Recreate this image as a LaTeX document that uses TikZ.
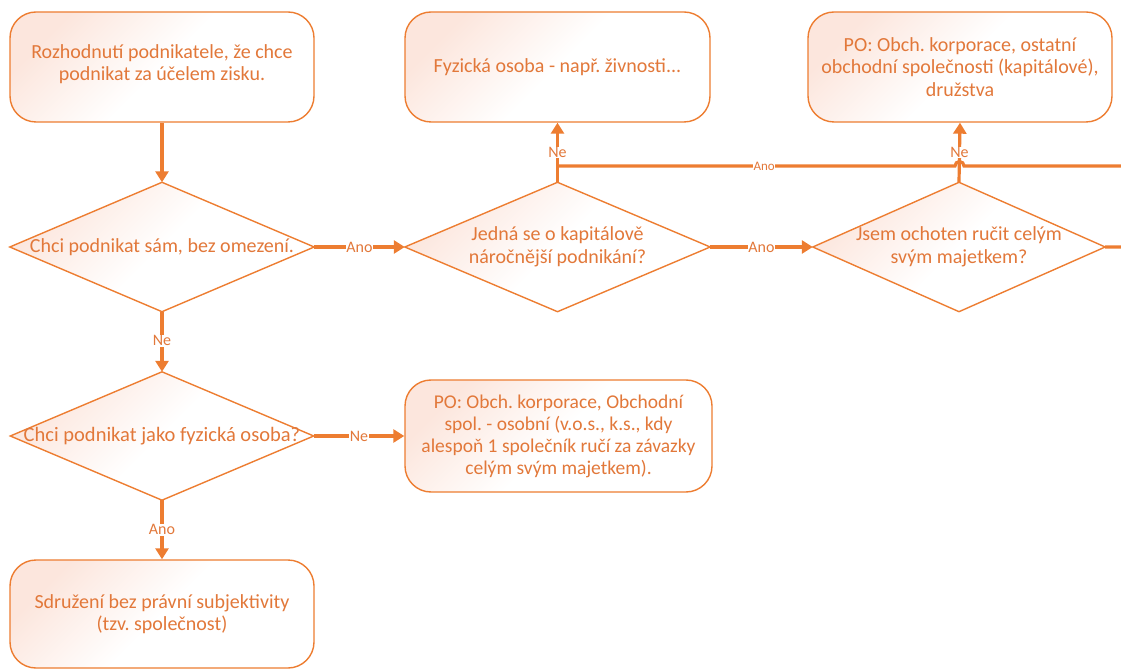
\documentclass[tikz,border=0pt]{standalone}
\usepackage{fontspec}
\setmainfont{Carlito}
\usetikzlibrary{arrows.meta}
\definecolor{ora}{HTML}{ED7D31}
\definecolor{oratext}{HTML}{E2783A}
\definecolor{pinkf}{HTML}{FCE6DD}
\frenchspacing
\begin{document}
\begin{tikzpicture}[x=1pt,y=1pt,
  box/.style={draw=ora, line width=1.4pt, rounded corners=26pt, top color=pinkf, bottom color=white, middle color=white, shading angle=45,
     minimum width=#1, minimum height=110pt, inner sep=0pt, align=center,
     text=oratext, font=\fontsize{20}{22.5}\selectfont},
  dbox/.style={draw=none, minimum width=#1, minimum height=129pt, inner sep=0pt},
  dshape/.style={draw=ora, line width=1.4pt, top color=pinkf, bottom color=white, middle color=white, shading angle=45},
  dtext/.style={text=oratext, font=\fontsize{20}{23}\selectfont, align=center, inner sep=0pt},
  conn/.style={draw=ora, line width=3.2pt, -{Triangle[width=13pt,length=11pt]}},
  plain/.style={draw=ora, line width=3.2pt},
  lab/.style={fill=white, inner sep=0.8pt, text=oratext, font=\fontsize{16}{17}\selectfont},
  slab/.style={fill=white, inner sep=0.5pt, text=oratext, font=\fontsize{13}{14}\selectfont}
]
\useasboundingbox (0,0) rectangle (1121,670);
% boxes
\node[box=304pt] (start) at (162,603) {Rozhodnutí podnikatele, že chce\\podnikat za účelem zisku.\rule[-9pt]{0pt}{0pt}};
\node[box=305pt] (fyz) at (557.5,603) {Fyzická osoba - např. živnosti...};
\node[box=304pt] (po1) at (960,603) {PO: Obch. korporace, ostatní\\obchodní společnosti (kapitálové),\\družstva};
\node[box=307pt, minimum height=112pt, font=\fontsize{19.5}{22}\selectfont] (po2) at (558.5,234) {PO: Obch. korporace, Obchodní\\spol. - osobní (v.o.s., k.s., kdy\\alespoň 1 společník ručí za závazky\\celým svým majetkem).};
\node[box=304pt, minimum height=108pt] (sdr) at (162,56) {\rule{0pt}{14pt}Sdružení bez právní subjektivity\\(tzv. společnost)};
% diamonds (placeholder nodes + drawn shapes)
\node[dbox=304pt] (d1) at (162,423) {};
\node[dbox=305pt] (d2) at (557.5,423) {};
\node[dbox=292pt] (d3) at (959,423) {};
\node[dbox=303pt, minimum height=128pt] (d4) at (162,234) {};
\foreach \d in {d1,d2,d3,d4}{
  \path[dshape] (\d.north) -- (\d.east) -- (\d.south) -- (\d.west) -- cycle;
}
\node[dtext] (t1) at (d1) {Chci podnikat sám, bez omezení.};
\node[dtext] (t2) at (d2) {Jedná se o kapitálově\\náročnější podnikání?};
\node[dtext] (t3) at (d3) {Jsem ochoten ručit celým\\svým majetkem?};
\node[dtext, font=\fontsize{20.5}{23}\selectfont] (t4) at (d4) {Chci podnikat jako fyzická osoba?};
% helper coordinates
\coordinate (r1) at (1140,423);
\coordinate (r2) at (1140,504);
\coordinate (hopR) at (964,504);
\coordinate (j) at (557.5,504);
% connectors
\draw[conn] (start.south) -- (d1.north);
\draw[plain] (d3.east) -- (r1) -- (r2) -- (hopR) arc (0:180:4.5) -- (j)
   node[pos=0.48, slab] (lano3) {Ano};
\draw[conn] (d2.north) -- node[pos=0.5, lab] (lne1) {Ne} (fyz.south);
\draw[conn] (d3.north) -- node[pos=0.5, lab] (lne2) {Ne} (po1.south);
\draw[conn] (d1.east) -- node[pos=0.5, lab] (lano1) {Ano} (d2.west);
\draw[conn] (d2.east) -- node[pos=0.5, lab] (lano2) {Ano} (d3.west);
\draw[conn] (d1.south) -- node[pos=0.48, lab] (lne3) {Ne} (d4.north);
\draw[conn] (d4.east) -- node[pos=0.5, lab] (lne4) {Ne} (po2.west);
\draw[conn] (d4.south) -- node[pos=0.5, lab] (lano4) {Ano} (sdr.north);
\end{tikzpicture}
\end{document}
